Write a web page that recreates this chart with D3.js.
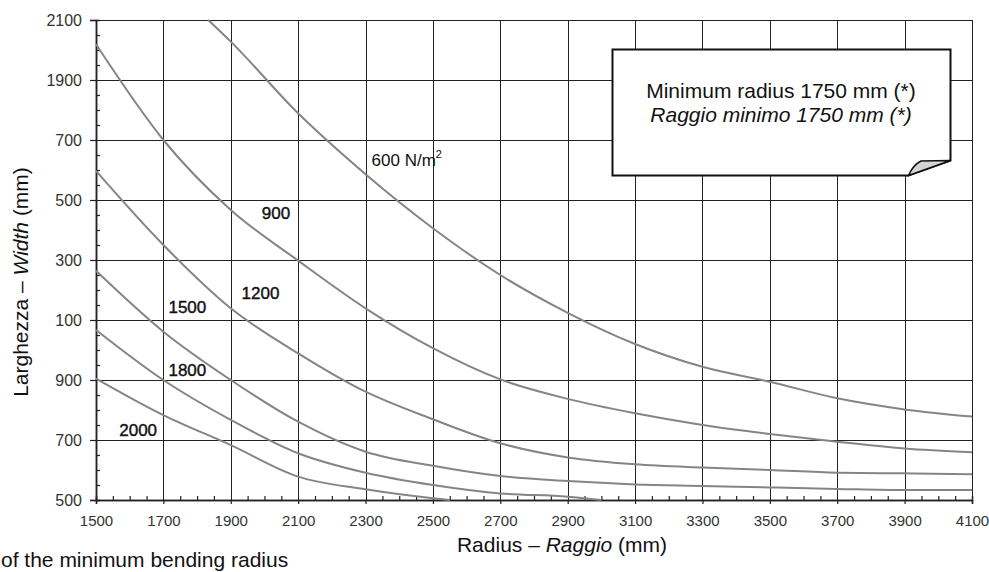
<!DOCTYPE html>
<html>
<head>
<meta charset="utf-8">
<script src="https://cdn.jsdelivr.net/npm/d3@7"></script>
<style>
  body { margin: 0; background: #fff; }
  svg { display: block; font-family: "Liberation Sans", Arial, sans-serif; }
</style>
</head>
<body>
<svg id="chart" width="989" height="572"></svg>
<script>
// radius grid (mm) and width ticks (mm)
const radius = [1500, 1700, 1900, 2100, 2300, 2500, 2700, 2900, 3100, 3300, 3500, 3700, 3900, 4100];
const widthTicks = [500, 700, 900, 1100, 1300, 1500, 1700, 1900, 2100];
// labels as printed (leading digit cut off in the source)
const widthTickLabels = ["500", "700", "900", "100", "300", "500", "700", "1900", "2100"];

// curves, one per load (N/m2)
const r600 = [1833, 1900, 2100, 2300, 2500, 2700, 2900, 3100, 3300, 3500, 3700, 3900, 4100];
const w600 = [2100, 2028, 1789, 1586, 1406, 1250, 1124, 1020, 944, 894, 839, 802, 778];
const w900 = [2019, 1700, 1467, 1298, 1139, 1006, 902, 837, 789, 750, 720, 694, 672, 659];
const w1200 = [1597, 1350, 1139, 989, 861, 769, 689, 642, 619, 608, 600, 591, 589, 586];
const w1500 = [1264, 1061, 900, 761, 661, 614, 580, 563, 552, 547, 542, 537, 533, 533];
const r1800 = [1500, 1700, 1900, 2100, 2300, 2500, 2700, 2900, 3000];
const w1800 = [1067, 900, 767, 656, 591, 550, 522, 511, 500];
const r2000 = [1500, 1700, 1900, 2100, 2300, 2500, 2550];
const w2000 = [905, 783, 683, 578, 536, 506, 500];

const curveNames = ["600 N/m", "900", "1200", "1500", "1800", "2000"];

const svg = d3.select("#chart");

const x = d3.scaleLinear().domain([1500, 4100]).range([96, 972]);
const y = d3.scaleLinear().domain([500, 2100]).range([500, 20]);

// grid
const grid = svg.append("g").attr("stroke", "#222").attr("stroke-width", 1).attr("shape-rendering", "crispEdges");
grid.selectAll("line.v").data(radius).enter().append("line")
    .attr("x1", d => Math.round(x(d)) + 0.5).attr("x2", d => Math.round(x(d)) + 0.5)
    .attr("y1", y(2100)).attr("y2", y(500));
grid.selectAll("line.h").data(widthTicks).enter().append("line")
    .attr("y1", d => Math.round(y(d)) + 0.5).attr("y2", d => Math.round(y(d)) + 0.5)
    .attr("x1", x(1500)).attr("x2", x(4100));

// minor ticks every 50 mm, drawn inside the plot
const minorX = d3.range(1500, 4101, 50).filter(v => (v - 1500) % 200 !== 0);
const minorY = d3.range(500, 2101, 50).filter(v => (v - 500) % 200 !== 0);

const xAxis = svg.append("g").attr("transform", `translate(0,${y(500)})`)
    .call(d3.axisBottom(x).tickValues(radius).tickSize(4).tickPadding(11).tickFormat(d3.format("d")));
const xMinor = svg.append("g").attr("transform", `translate(0,${y(500)})`)
    .call(d3.axisTop(x).tickValues(minorX).tickSize(4).tickFormat(""));

const yAxis = svg.append("g").attr("transform", `translate(${x(1500)},0)`)
    .call(d3.axisLeft(y).tickValues(widthTicks).tickSize(6).tickPadding(8)
        .tickFormat((d, i) => widthTickLabels[i]));
const yMinor = svg.append("g").attr("transform", `translate(${x(1500)},0)`)
    .call(d3.axisRight(y).tickValues(minorY).tickSize(4).tickFormat(""));

[xAxis, xMinor, yAxis, yMinor].forEach(g => {
    g.selectAll(".domain").attr("stroke", "#222").attr("stroke-width", 1.5);
    g.selectAll(".tick line").attr("stroke", "#222").attr("stroke-width", 1.2);
});
xAxis.selectAll("text").attr("font-size", 15).attr("fill", "#333")
    .attr("font-family", "'Liberation Sans', Arial, sans-serif");
yAxis.selectAll("text").attr("font-size", 16).attr("fill", "#333")
    .attr("font-family", "'Liberation Sans', Arial, sans-serif");

// curves
const line = d3.line().x(d => x(d[0])).y(d => y(d[1])).curve(d3.curveMonotoneX);
const series = [
    d3.zip(r600, w600),
    d3.zip(radius, w900),
    d3.zip(radius, w1200),
    d3.zip(radius, w1500),
    d3.zip(r1800, w1800),
    d3.zip(r2000, w2000)
];
svg.append("g").selectAll("path").data(series).enter().append("path")
    .attr("d", line)
    .attr("fill", "none")
    .attr("stroke", "#858585")
    .attr("stroke-width", 2);

// curve labels
const labelAt = [[2318, 1613], [1992, 1437], [1932, 1169], [1715, 1122], [1715, 913], [1569, 713]];
const labels = svg.append("g").attr("font-size", 17).attr("fill", "#111");
curveNames.forEach((name, i) => {
    const t = labels.append("text")
        .attr("x", x(labelAt[i][0]))
        .attr("y", y(labelAt[i][1]))
        .text(name);
    if (i === 0) {
        t.append("tspan").attr("font-size", 11).attr("dy", -8).text("2");
    } else {
        t.attr("stroke", "#111").attr("stroke-width", 0.4);
    }
});

// note box with folded corner
const note = svg.append("g");
note.append("path")
    .attr("d", "M612.5,49.5 H950.5 V160.5 L908.5,175.5 H612.5 Z")
    .attr("fill", "#fff").attr("stroke", "#111").attr("stroke-width", 2);
note.append("path")
    .attr("d", "M908.5,175.5 Q913,165 921,161 L950.5,160.5 Z")
    .attr("fill", "#d4d4d4").attr("stroke", "#111").attr("stroke-width", 1.5);
note.append("text").attr("x", 781).attr("y", 98).attr("text-anchor", "middle")
    .attr("font-size", 21).attr("fill", "#111").text("Minimum radius 1750 mm (*)");
note.append("text").attr("x", 781).attr("y", 121.5).attr("text-anchor", "middle")
    .attr("font-size", 21).attr("font-style", "italic").attr("fill", "#111")
    .text("Raggio minimo 1750 mm (*)");

// axis titles
const xt = svg.append("text").attr("x", 562).attr("y", 552).attr("text-anchor", "middle")
    .attr("font-size", 21).attr("fill", "#111");
xt.append("tspan").text("Radius – ");
xt.append("tspan").attr("font-style", "italic").text("Raggio");
xt.append("tspan").text(" (mm)");

const yt = svg.append("text").attr("transform", "translate(28,282) rotate(-90)")
    .attr("text-anchor", "middle").attr("font-size", 21).attr("fill", "#111");
yt.append("tspan").text("Larghezza – ");
yt.append("tspan").attr("font-style", "italic").text("Width");
yt.append("tspan").text(" (mm)");

// caption at the bottom of the picture, kept just inside the edge
svg.append("text").attr("x", 1).attr("y", 567).attr("font-size", 21).attr("fill", "#111")
    .text("of the minimum bending radius");
</script>
</body>
</html>
